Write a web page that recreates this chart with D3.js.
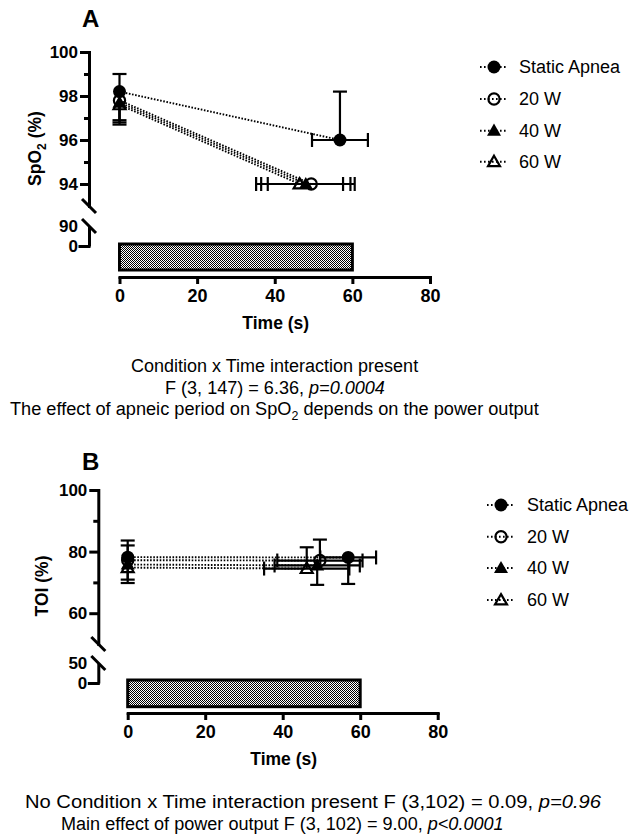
<!DOCTYPE html>
<html><head><meta charset="utf-8">
<script src="https://cdn.jsdelivr.net/npm/d3@7"></script>
<style>
body{margin:0;background:#fff;}
svg{display:block;font-family:"Liberation Sans",Arial,Helvetica,sans-serif;}
</style></head><body>
<svg id="chart" width="633" height="835"></svg>
<script>
// ---------- DATA ----------
const seriesNames = ["Static Apnea", "20 W", "40 W", "60 W"];
const timeTicks = [0, 20, 40, 60, 80];
const apneaWindow = [0, 60];

// Panel A: SpO2 (%)
const spo2Time    = [[0, 56.8], [0, 49.4], [0, 48.0], [0, 46.4]];
const spo2Mean    = [[98.2, 96.0], [97.8, 94.0], [97.7, 94.0], [97.6, 94.0]];
const spo2ErrUp   = [[0.8, 2.2], [0, 0], [0, 0], [0, 0]];
const spo2ErrDown = [[0, 0], [0.9, 0], [1.0, 0], [0.8, 0]];
const spo2TimeErr = [[0, 7.2], [0, 11.2], [0, 11.5], [0, 11.2]];
const spo2MajorTicks = [94, 96, 98, 100];
const spo2MinorTicks = [95, 97, 99];
const spo2LowerTicks = [0, 90];
const spo2Upper = [93, 100];
const spo2Lower = [0, 90];

// Panel B: TOI (%)
const toiTime    = [[0, 56.9], [0, 49.6], [0, 48.9], [0, 46.2]];
const toiMean    = [[78.2, 78.1], [77.2, 77.1], [75.8, 75.5], [74.8, 74.5]];
const toiErrUp   = [[5.4, 0], [4.8, 6.8], [0, 0], [0, 6.9]];
const toiErrDown = [[0, 8.6], [0, 0], [4.9, 6.3], [5.0, 0]];
const toiTimeErr = [[0, 7.2], [0, 11], [0, 11], [0, 11]];
const toiMajorTicks = [60, 80, 100];
const toiMinorTicks = [70, 90];
const toiLowerTicks = [0, 50];
const toiUpper = [50, 100];
const toiLower = [0, 50];

// ---------- STYLE ----------
const markerStyle = [
  {shape: "circle", filled: true},
  {shape: "circle", filled: false},
  {shape: "triangle", filled: true},
  {shape: "triangle", filled: false}
];

const svg = d3.select("#chart");
const defs = svg.append("defs");
const pat = defs.append("pattern").attr("id", "checker")
  .attr("width", 2).attr("height", 2).attr("patternUnits", "userSpaceOnUse");
pat.append("rect").attr("width", 2).attr("height", 2).attr("fill", "#fff");
pat.append("rect").attr("width", 1).attr("height", 1).attr("fill", "#000");
pat.append("rect").attr("x", 1).attr("y", 1).attr("width", 1).attr("height", 1).attr("fill", "#000");

function marker(g, i, cx, cy) {
  const s = markerStyle[i];
  if (s.shape === "circle") {
    g.append("circle").attr("cx", cx).attr("cy", cy)
      .attr("r", s.filled ? 6.5 : 5.6)
      .attr("fill", s.filled ? "#000" : "none")
      .attr("stroke", "#000").attr("stroke-width", s.filled ? 0 : 2.2);
  } else {
    g.append("path").attr("d", d3.symbol(d3.symbolTriangle, s.filled ? 85 : 62)())
      .attr("transform", `translate(${cx},${cy + 1})`)
      .attr("fill", s.filled ? "#000" : "none")
      .attr("stroke", "#000").attr("stroke-width", s.filled ? 0 : 2.2)
      .attr("stroke-linejoin", "miter");
  }
}

function styleAxisText(sel, size) {
  sel.selectAll("text").attr("font-family", null).attr("fill", "#000")
    .style("font-size", size + "px").style("font-weight", "bold");
}

const fmt = d3.format("d");

function drawPanel(c) {
  const g = svg.append("g");
  const x = d3.scaleLinear().domain([0, 80]).range(c.xRange);
  const yT = d3.scaleLinear().domain(c.upper).range(c.yTopRange);
  const yB = d3.scaleLinear().domain(c.lower).range(c.yBotRange);

  // panel letter
  g.append("text").attr("x", c.letterPos[0]).attr("y", c.letterPos[1])
    .style("font-size", "24px").style("font-weight", "bold").text(c.letter);

  // y axis upper segment
  const ga = g.append("g").attr("transform", `translate(${c.axisX},0)`)
    .call(d3.axisLeft(yT).tickValues(c.major).tickFormat(fmt).tickSize(9).tickSizeOuter(0).tickPadding(2));
  ga.select(".domain").attr("stroke-width", 3).attr("stroke-linecap", "square");
  ga.selectAll(".tick line").attr("stroke-width", 3);
  styleAxisText(ga, 17);
  const gm = g.append("g").attr("transform", `translate(${c.axisX},0)`)
    .call(d3.axisLeft(yT).tickValues(c.minor).tickSize(5).tickFormat(""));
  gm.select(".domain").remove();
  gm.selectAll(".tick line").attr("stroke-width", 3);

  // y axis lower segment
  const gl = g.append("g").attr("transform", `translate(${c.axisX},0)`)
    .call(d3.axisLeft(yB).tickValues(c.lowerTicks).tickFormat(fmt).tickSize(9).tickSizeOuter(0).tickPadding(2));
  gl.select(".domain").attr("stroke-width", 3);
  gl.selectAll(".tick").filter(d => d !== c.lower[0]).select("line").remove();
  gl.selectAll(".tick line").attr("stroke-width", 3).attr("stroke-linecap", "square");
  styleAxisText(gl, 17);

  // break marks
  [yT(c.upper[0]), yB(c.lower[1])].forEach(yy => {
    g.append("line").attr("x1", c.axisX - 7).attr("y1", yy - 7)
      .attr("x2", c.axisX + 7).attr("y2", yy + 7)
      .attr("stroke", "#000").attr("stroke-width", 3);
  });

  // y title
  const yt = g.append("text")
    .attr("transform", `translate(${c.yTitlePos[0]},${c.yTitlePos[1]}) rotate(-90)`)
    .attr("text-anchor", "middle").style("font-size", "17.5px").style("font-weight", "bold");
  c.yTitle(yt);

  // apnea bar
  g.append("rect").attr("x", x(apneaWindow[0])).attr("y", c.bar[0])
    .attr("width", x(apneaWindow[1]) - x(apneaWindow[0])).attr("height", c.bar[1] - c.bar[0])
    .attr("fill", "url(#checker)").attr("stroke", "#000").attr("stroke-width", 3);

  // x axis
  const gx = g.append("g").attr("transform", `translate(0,${c.xAxisY})`)
    .call(d3.axisBottom(x).tickValues(timeTicks).tickFormat(fmt).tickSize(7).tickSizeOuter(0));
  gx.select(".domain").attr("stroke-width", 3).attr("stroke-linecap", "square");
  gx.selectAll(".tick line").attr("stroke-width", 3);
  styleAxisText(gx, 18);
  gx.selectAll(".tick text").attr("y", 25).attr("dy", null);
  g.append("text").attr("x", (c.xRange[0] + c.xRange[1]) / 2 + 1).attr("y", c.xAxisY + 52)
    .attr("text-anchor", "middle").style("font-size", "17.5px").style("font-weight", "bold")
    .text("Time (s)");

  // data
  const n = seriesNames.length;
  const line = d3.line().x(d => x(d[0])).y(d => yT(d[1]));
  for (let i = 0; i < n; i++) {
    const pts = c.time[i].map((t, k) => [t, c.mean[i][k]]);
    g.append("path").attr("d", line(pts)).attr("fill", "none")
      .attr("stroke", "#000").attr("stroke-width", 1.9).attr("stroke-dasharray", "1.6 1.6");
  }
  const eb = g.append("g").attr("stroke", "#000").attr("stroke-width", 2.2);
  const cap = 7;
  for (let i = 0; i < n; i++) {
    c.time[i].forEach((t, k) => {
      const m = c.mean[i][k], cx = x(t), cy = yT(m);
      const up = c.errUp[i][k], dn = c.errDown[i][k], xe = c.timeErr[i][k];
      if (up > 0) {
        eb.append("line").attr("x1", cx).attr("x2", cx).attr("y1", cy).attr("y2", yT(m + up));
        eb.append("line").attr("x1", cx - cap).attr("x2", cx + cap).attr("y1", yT(m + up)).attr("y2", yT(m + up));
      }
      if (dn > 0) {
        eb.append("line").attr("x1", cx).attr("x2", cx).attr("y1", cy).attr("y2", yT(m - dn));
        eb.append("line").attr("x1", cx - cap).attr("x2", cx + cap).attr("y1", yT(m - dn)).attr("y2", yT(m - dn));
      }
      if (xe > 0) {
        eb.append("line").attr("x1", x(t - xe)).attr("x2", x(t + xe)).attr("y1", cy).attr("y2", cy);
        [t - xe, t + xe].forEach(v => eb.append("line").attr("x1", x(v)).attr("x2", x(v))
          .attr("y1", cy - cap).attr("y2", cy + cap));
      }
    });
  }
  const mk = g.append("g");
  for (let i = n - 1; i >= 0; i--) {
    c.time[i].forEach((t, k) => marker(mk, i, x(t), yT(c.mean[i][k])));
  }

  // legend
  const lg = g.append("g");
  seriesNames.forEach((name, i) => {
    const ry = c.legend.rows[i];
    lg.append("line").attr("x1", c.legend.symX - 14).attr("x2", c.legend.symX + 14)
      .attr("y1", ry).attr("y2", ry).attr("stroke", "#000").attr("stroke-width", 1.9)
      .attr("stroke-dasharray", "1.6 2.4");
    marker(lg, i, c.legend.symX, ry);
    lg.append("text").attr("x", c.legend.textX).attr("y", ry).attr("dy", "0.36em")
      .style("font-size", "18px").text(name);
  });
}

function fitText(x1, x2, baseline, build) {
  const t = svg.append("text").attr("x", 0).attr("y", 0).style("font-size", "19px").attr("fill", "#000");
  build(t);
  const bb = t.node().getBBox();
  const sx = (x2 - x1) / bb.width;
  t.attr("transform", `translate(${x1 - bb.x * sx},${baseline}) scale(${sx},1)`);
}

drawPanel({
  letter: "A", letterPos: [82, 27],
  axisX: 89, upper: spo2Upper, lower: spo2Lower,
  yTopRange: [206, 52], yBotRange: [246, 226],
  major: spo2MajorTicks, minor: spo2MinorTicks, lowerTicks: spo2LowerTicks,
  xRange: [119.5, 430], xAxisY: 277, bar: [244, 270],
  yTitlePos: [41, 148.5],
  yTitle: t => { t.append("tspan").text("SpO"); t.append("tspan").attr("dy", 5).style("font-size", "12px").text("2");
                 t.append("tspan").attr("dy", -5).text(" (%)"); },
  time: spo2Time, mean: spo2Mean, errUp: spo2ErrUp, errDown: spo2ErrDown, timeErr: spo2TimeErr,
  legend: {symX: 494, textX: 519, rows: [67, 99, 130.7, 161.7]}
});

drawPanel({
  letter: "B", letterPos: [82, 470],
  axisX: 98.3, upper: toiUpper, lower: toiLower,
  yTopRange: [644, 490], yBotRange: [683, 663],
  major: toiMajorTicks, minor: toiMinorTicks, lowerTicks: toiLowerTicks,
  xRange: [127.7, 437.7], xAxisY: 713, bar: [680, 706.7],
  yTitlePos: [48, 586],
  yTitle: t => t.text("TOI (%)"),
  time: toiTime, mean: toiMean, errUp: toiErrUp, errDown: toiErrDown, timeErr: toiTimeErr,
  legend: {symX: 501, textX: 527, rows: [505, 536.7, 568, 600]}
});

// annotations
fitText(131, 419, 372, t => t.text("Condition x Time interaction present"));
fitText(165, 385, 394, t => { t.append("tspan").text("F (3, 147) = 6.36, "); t.append("tspan").style("font-style", "italic").text("p=0.0004"); });
fitText(10, 540, 415, t => { t.append("tspan").text("The effect of apneic period on SpO");
  t.append("tspan").attr("dy", 5).style("font-size", "13px").text("2");
  t.append("tspan").attr("dy", -5).text(" depends on the power output"); });
fitText(25, 602, 808, t => { t.append("tspan").text("No Condition x Time interaction present F (3,102) = 0.09, ");
  t.append("tspan").style("font-style", "italic").text("p=0.96"); });
fitText(61, 504, 830, t => { t.append("tspan").text("Main effect of power output F (3, 102) = 9.00, ");
  t.append("tspan").style("font-style", "italic").text("p<0.0001"); });
</script>
</body></html>
